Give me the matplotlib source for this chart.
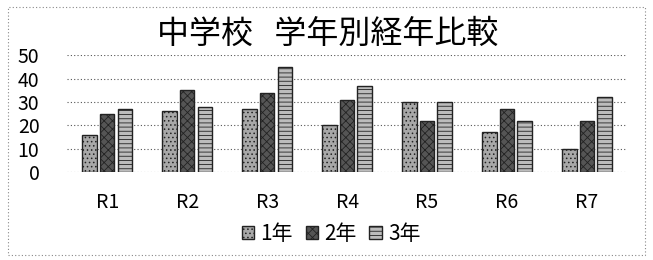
import numpy as np
import matplotlib.pyplot as plt
from matplotlib.patches import Rectangle

plt.rcParams['font.family'] = ['Noto Sans CJK JP', 'DejaVu Sans']
plt.rcParams['hatch.linewidth'] = 0.6

# data
regions = ['R1', 'R2', 'R3', 'R4', 'R5', 'R6', 'R7']
grade1 = [16, 26, 27, 20, 30, 17, 10]
grade2 = [25, 35, 34, 31, 22, 27, 22]
grade3 = [27, 28, 45, 37, 30, 22, 32]
series_names = ['1年', '2年', '3年']

fig = plt.figure(figsize=(6.53, 2.6), dpi=100)
ax = fig.add_axes([0.103, 0.338, 0.857, 0.45])

x = np.arange(len(regions))
w = 0.18
styles = [
    dict(color='#a8a8a8', hatch='....'),
    dict(color='#555555', hatch='xxxx'),
    dict(color='#bcbcbc', hatch='----'),
]
for i, (vals, name, st) in enumerate(zip([grade1, grade2, grade3], series_names, styles)):
    ax.bar(x + (i - 1) * 0.22, vals, w, color=st['color'], edgecolor='#222222',
           linewidth=1.0, hatch=st['hatch'], label=name, zorder=3)

ax.set_xlim(-0.5, 6.5)
ax.set_ylim(0, 50)
ax.set_yticks([0, 10, 20, 30, 40, 50])
ax.set_xticks(x)
ax.set_xticklabels(regions)
ax.grid(axis='y', color='#555555', linestyle=(0, (1, 2)), linewidth=0.8, zorder=0)
for s in ax.spines.values():
    s.set_visible(False)
ax.tick_params(length=0, labelsize=14)
ax.tick_params(axis='x', pad=14)
ax.tick_params(axis='y', pad=20)

fig.text(0.502, 0.87, '中学校   学年別経年比較', ha='center', va='center', fontsize=23)

fig.legend(loc='center', bbox_to_anchor=(0.507, 0.1), ncol=3, frameon=False,
           fontsize=15, handlelength=0.6, handleheight=0.6, handletextpad=0.3,
           columnspacing=0.6, borderpad=0)

fig.patches.append(Rectangle((0.012, 0.02), 0.975, 0.955, transform=fig.transFigure,
                             fill=False, edgecolor='#888888', linestyle=(0, (1, 2)),
                             linewidth=0.8))

fig.savefig('out.png', dpi=100)
